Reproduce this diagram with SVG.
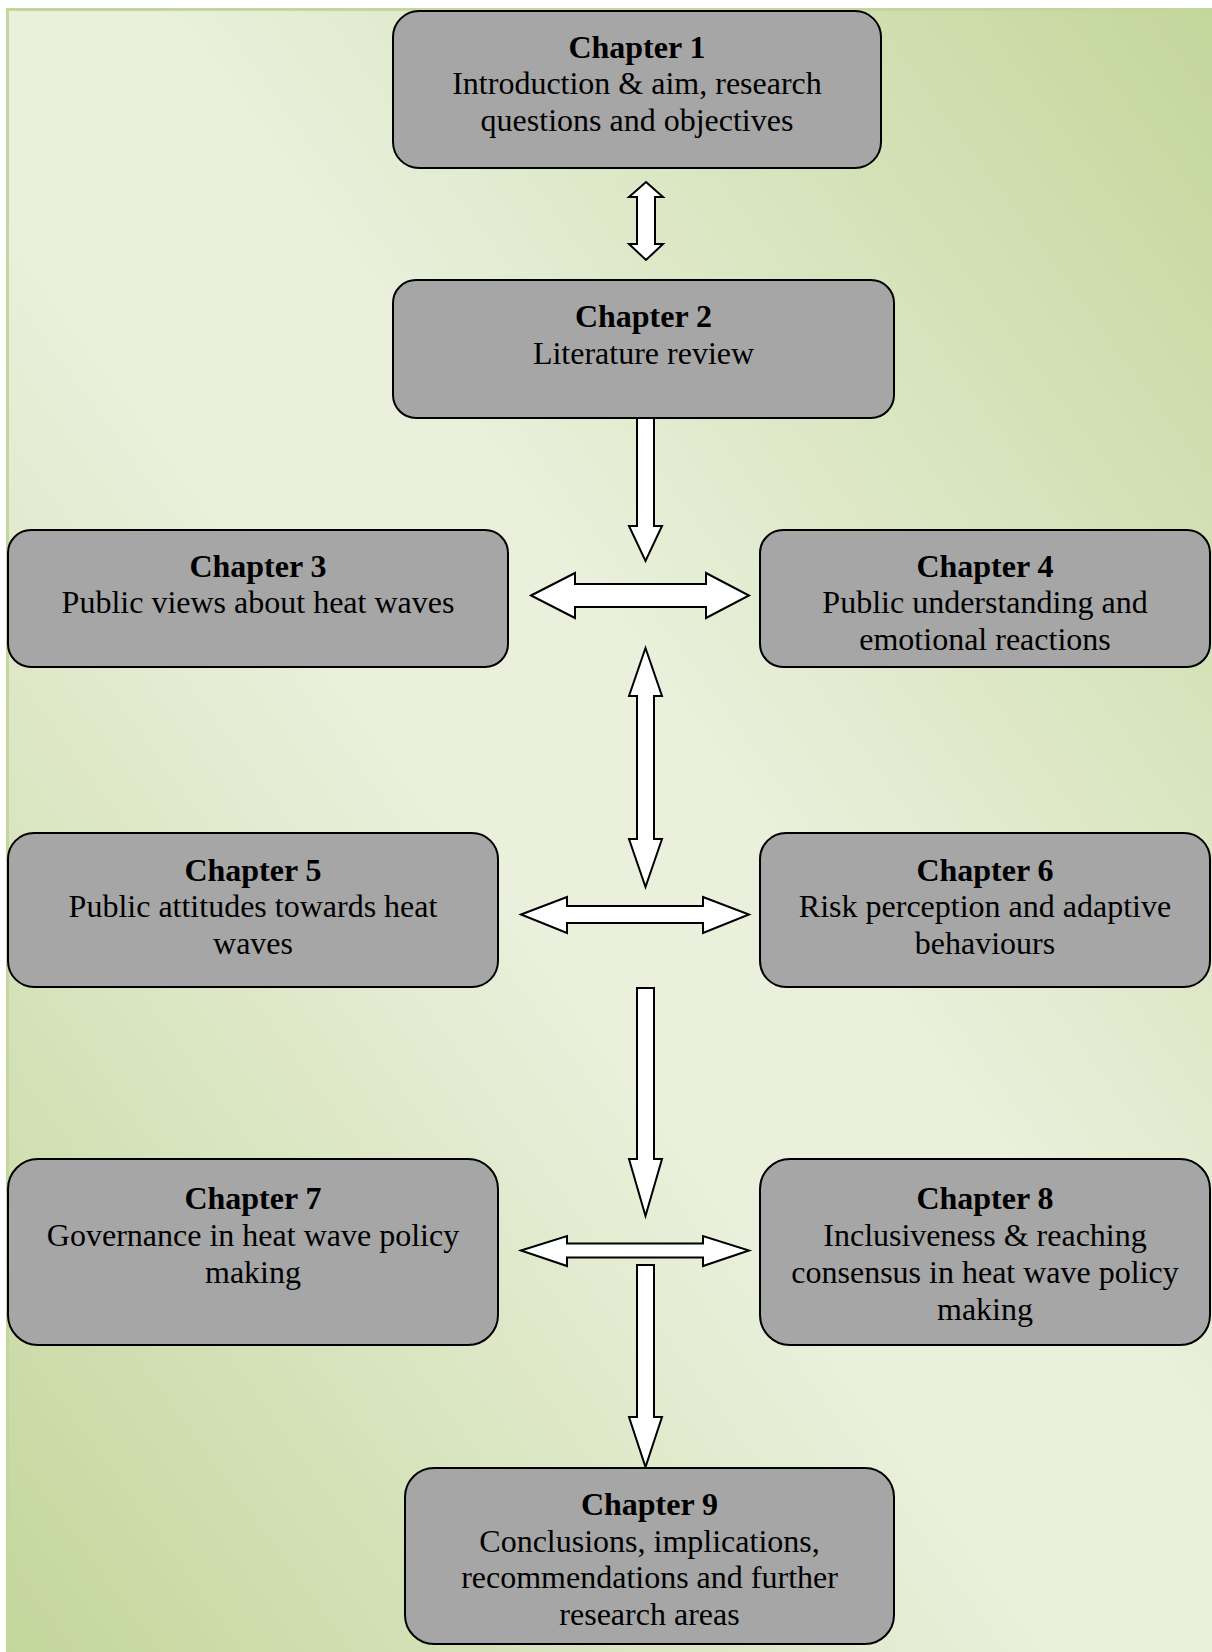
<svg xmlns="http://www.w3.org/2000/svg" width="1212" height="1652" viewBox="0 0 1212 1652">
<defs>
<linearGradient id="bg" x1="1" y1="0" x2="0" y2="1">
<stop offset="0" stop-color="#c3d69b"/>
<stop offset="0.44" stop-color="#eaf0dc"/>
<stop offset="0.56" stop-color="#eaf0dc"/>
<stop offset="1" stop-color="#c3d69b"/>
</linearGradient>
</defs>
<style>
.box{fill:#a6a6a6;stroke:#000;stroke-width:2}
.arr{fill:#fff;stroke:#000;stroke-width:2;stroke-linejoin:miter}
text{font-family:"Liberation Serif","Times New Roman",serif;font-size:32px;fill:#000;text-anchor:middle}
.t{font-weight:bold}
</style>
<rect x="0" y="0" width="1212" height="1652" fill="#fff"/>
<rect x="7.5" y="9.5" width="1210" height="1650" fill="url(#bg)" stroke="#c3d69b" stroke-width="3"/>
<g id="connectors">
<path class="arr" d="M646,182 L663,197 L655,197 L655,244 L663,244 L646,260 L629,244 L637,244 L637,197 L629,197 Z"/>
<path class="arr" d="M637,418 L654,418 L654,526 L662,526 L645.5,561 L629,526 L637,526 Z"/>
<path class="arr" d="M531,595.5 L575,573 L575,584 L706,584 L706,573 L749,595.5 L706,618 L706,607 L575,607 L575,618 Z"/>
<path class="arr" d="M645.5,648 L662,696 L654,696 L654,839 L662,839 L645.5,887 L629,839 L637,839 L637,696 L629,696 Z"/>
<path class="arr" d="M521,914.5 L567,897 L567,906 L703,906 L703,897 L749,914.5 L703,933 L703,923 L567,923 L567,933 Z"/>
<path class="arr" d="M637,988 L654,988 L654,1159 L662,1159 L645.5,1216 L629,1159 L637,1159 Z"/>
<path class="arr" d="M521,1250.5 L567,1236 L567,1243.5 L703,1243.5 L703,1236 L749,1250.5 L703,1266 L703,1257.5 L567,1257.5 L567,1266 Z"/>
<path class="arr" d="M637,1265 L654,1265 L654,1417 L662,1417 L645.5,1467 L629,1417 L637,1417 Z"/>
</g>
<g id="ch1">
<rect class="box" x="393" y="11" width="488" height="157" rx="26"/>
<text x="637" y="58" class="t">Chapter 1</text>
<text x="637" y="94">Introduction &amp; aim, research</text>
<text x="637" y="131">questions and objectives</text>
</g>
<g id="ch2">
<rect class="box" x="393" y="280" width="501" height="138" rx="23"/>
<text x="643.5" y="327" class="t">Chapter 2</text>
<text x="643.5" y="364">Literature review</text>
</g>
<g id="ch3">
<rect class="box" x="8" y="530" width="500" height="137" rx="23"/>
<text x="258" y="577" class="t">Chapter 3</text>
<text x="258" y="613">Public views about heat waves</text>
</g>
<g id="ch4">
<rect class="box" x="760" y="530" width="450" height="137" rx="23"/>
<text x="985" y="577" class="t">Chapter 4</text>
<text x="985" y="613">Public understanding and</text>
<text x="985" y="650">emotional reactions</text>
</g>
<g id="ch5">
<rect class="box" x="8" y="833" width="490" height="154" rx="26"/>
<text x="253" y="881" class="t">Chapter 5</text>
<text x="253" y="917">Public attitudes towards heat</text>
<text x="253" y="954">waves</text>
</g>
<g id="ch6">
<rect class="box" x="760" y="833" width="450" height="154" rx="26"/>
<text x="985" y="881" class="t">Chapter 6</text>
<text x="985" y="917">Risk perception and adaptive</text>
<text x="985" y="954">behaviours</text>
</g>
<g id="ch7">
<rect class="box" x="8" y="1159" width="490" height="186" rx="30"/>
<text x="253" y="1209" class="t">Chapter 7</text>
<text x="253" y="1246">Governance in heat wave policy</text>
<text x="253" y="1283">making</text>
</g>
<g id="ch8">
<rect class="box" x="760" y="1159" width="450" height="186" rx="30"/>
<text x="985" y="1209" class="t">Chapter 8</text>
<text x="985" y="1246">Inclusiveness &amp; reaching</text>
<text x="985" y="1283">consensus in heat wave policy</text>
<text x="985" y="1320">making</text>
</g>
<g id="ch9">
<rect class="box" x="405" y="1468" width="489" height="176" rx="29"/>
<text x="649.5" y="1515" class="t">Chapter 9</text>
<text x="649.5" y="1552">Conclusions, implications,</text>
<text x="649.5" y="1588">recommendations and further</text>
<text x="649.5" y="1625">research areas</text>
</g>
</svg>
